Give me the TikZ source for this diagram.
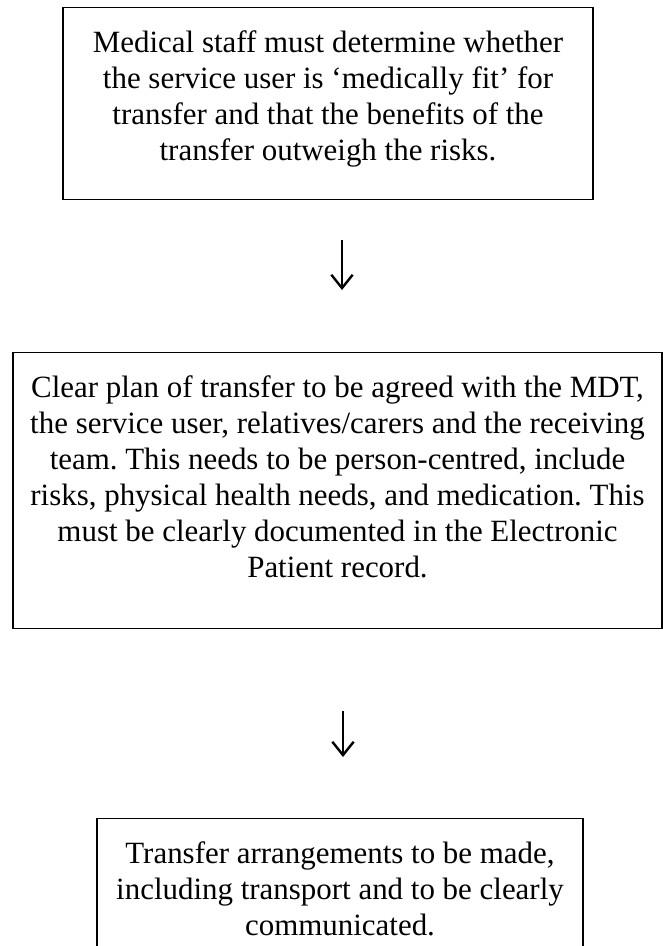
\documentclass[tikz,border=0pt]{standalone}
\usepackage{fontspec}
\setmainfont{Liberation Serif}
\usepackage{tikz}
\usetikzlibrary{positioning, arrows.meta, calc}
\frenchspacing

\tikzset{
    stepbox/.style={draw, line width=1.1pt, inner sep=0pt, anchor=north},
    steptext/.style={align=center, inner sep=0pt, anchor=north,
        font=\fontsize{23.2}{27}\selectfont},
    downarrow/.style={line width=1.8pt, -{Straight Barb[length=10pt, width=16pt, line width=1.8pt]}}
}

\begin{document}
\begin{tikzpicture}[x=0.75pt, y=-0.75pt]
    \useasboundingbox (0,0) rectangle (663,946);
    % First step
    \node[stepbox, minimum width=530*0.75pt, minimum height=192*0.75pt] (fit) at (328,7) {};
    \node[steptext] (fittext) at ($(fit.north)+(0,23)$)
        {Medical staff must determine whether\\
         the service user is ‘medically fit’ for\\
         transfer and that the benefits of the\\
         transfer outweigh the risks.};
    % Second step
    \node[stepbox, minimum width=649*0.75pt, minimum height=276*0.75pt] (plan) at (337.5,352) {};
    \node[steptext] (plantext) at ($(plan.north)+(0,23)$)
        {Clear plan of transfer to be agreed with the MDT,\\
         the service user, relatives/carers and the receiving\\
         team. This needs to be person-centred, include\\
         risks, physical health needs, and medication. This\\
         must be clearly documented in the Electronic\\
         Patient record.};
    % Third step (box runs off the page)
    \node[stepbox, minimum width=486*0.75pt, minimum height=160*0.75pt] (arrange) at (340,818) {};
    \node[steptext] (arrangetext) at ($(arrange.north)+(0,23)$)
        {Transfer arrangements to be made,\\
         including transport and to be clearly\\
         communicated.};
    % Arrows between the steps
    \coordinate (a1top) at (342,240);
    \coordinate (a1bot) at (342,290);
    \coordinate (a2top) at (343,711);
    \coordinate (a2bot) at (343,757);
    \draw[downarrow] (a1top) -- (a1bot);
    \draw[downarrow] (a2top) -- (a2bot);
\end{tikzpicture}
\end{document}
